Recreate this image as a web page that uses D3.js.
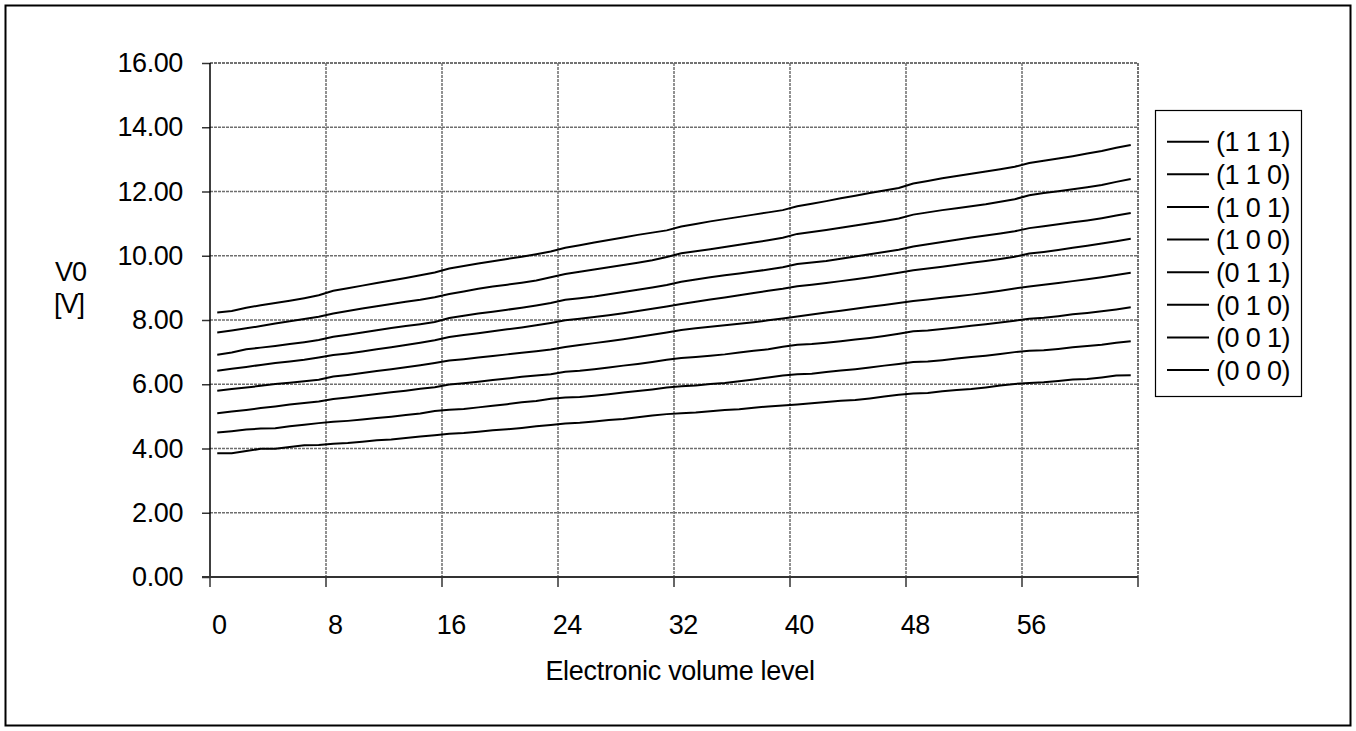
<!DOCTYPE html>
<html>
<head>
<meta charset="utf-8">
<script src="https://cdn.jsdelivr.net/npm/d3@7"></script>
<style>
  html, body { margin: 0; padding: 0; background: #fff; }
  svg { display: block; font-family: "Liberation Sans", Arial, sans-serif; }
</style>
</head>
<body>
<div class="outer-container"></div>
<script>
// electronic volume levels 0..63
const levels = d3.range(64)
const xTickLabels = [0, 8, 16, 24, 32, 40, 48, 56]
const yTickValues = [0, 2, 4, 6, 8, 10, 12, 14, 16]
const seriesNames = ['(1 1 1)', '(1 1 0)', '(1 0 1)', '(1 0 0)', '(0 1 1)', '(0 1 0)', '(0 0 1)', '(0 0 0)']

// V0 [V], one array per series
const v111 = [8.23, 8.28, 8.38, 8.46, 8.53, 8.60, 8.68, 8.77, 8.91, 8.99, 9.07, 9.15, 9.23, 9.31, 9.39, 9.48,
  9.60, 9.68, 9.76, 9.83, 9.90, 9.97, 10.05, 10.13, 10.25, 10.33, 10.41, 10.49, 10.57, 10.65, 10.72, 10.79,
  10.91, 10.99, 11.07, 11.14, 11.21, 11.28, 11.35, 11.42, 11.54, 11.62, 11.70, 11.79, 11.87, 11.95, 12.03, 12.11,
  12.25, 12.33, 12.41, 12.48, 12.55, 12.62, 12.69, 12.77, 12.89, 12.96, 13.03, 13.10, 13.18, 13.26, 13.36, 13.45]
const v110 = [7.61, 7.67, 7.74, 7.81, 7.89, 7.96, 8.03, 8.10, 8.20, 8.28, 8.36, 8.43, 8.50, 8.57, 8.63, 8.71,
  8.81, 8.89, 8.97, 9.04, 9.10, 9.16, 9.23, 9.33, 9.43, 9.50, 9.57, 9.64, 9.71, 9.78, 9.86, 9.96,
  10.08, 10.14, 10.20, 10.27, 10.34, 10.41, 10.48, 10.56, 10.68, 10.74, 10.80, 10.87, 10.94, 11.01, 11.08, 11.16,
  11.28, 11.35, 11.42, 11.48, 11.54, 11.60, 11.68, 11.76, 11.88, 11.95, 12.01, 12.07, 12.13, 12.20, 12.30, 12.39]
const v101 = [6.92, 6.99, 7.09, 7.14, 7.19, 7.25, 7.31, 7.38, 7.48, 7.54, 7.61, 7.68, 7.75, 7.81, 7.87, 7.94,
  8.06, 8.13, 8.20, 8.26, 8.32, 8.38, 8.45, 8.53, 8.63, 8.68, 8.73, 8.80, 8.87, 8.94, 9.01, 9.09,
  9.19, 9.26, 9.33, 9.39, 9.45, 9.51, 9.57, 9.64, 9.74, 9.79, 9.84, 9.91, 9.98, 10.05, 10.12, 10.19,
  10.29, 10.36, 10.43, 10.50, 10.57, 10.63, 10.69, 10.76, 10.86, 10.92, 10.98, 11.04, 11.10, 11.17, 11.25, 11.33]
const v100 = [6.42, 6.48, 6.54, 6.60, 6.66, 6.71, 6.76, 6.83, 6.91, 6.96, 7.02, 7.09, 7.15, 7.22, 7.29, 7.37,
  7.47, 7.53, 7.59, 7.65, 7.71, 7.77, 7.84, 7.91, 7.99, 8.04, 8.09, 8.15, 8.21, 8.28, 8.35, 8.42,
  8.50, 8.57, 8.64, 8.70, 8.77, 8.84, 8.91, 8.97, 9.05, 9.10, 9.15, 9.21, 9.27, 9.33, 9.40, 9.47,
  9.55, 9.60, 9.66, 9.72, 9.78, 9.84, 9.90, 9.97, 10.07, 10.12, 10.18, 10.25, 10.31, 10.38, 10.45, 10.53]
const v011 = [5.80, 5.85, 5.90, 5.95, 6.01, 6.05, 6.09, 6.14, 6.24, 6.29, 6.35, 6.41, 6.47, 6.53, 6.59, 6.66,
  6.74, 6.78, 6.83, 6.88, 6.93, 6.98, 7.03, 7.08, 7.16, 7.22, 7.28, 7.34, 7.40, 7.47, 7.54, 7.61,
  7.69, 7.74, 7.79, 7.84, 7.88, 7.93, 7.99, 8.05, 8.11, 8.17, 8.23, 8.29, 8.35, 8.41, 8.47, 8.53,
  8.59, 8.64, 8.69, 8.74, 8.79, 8.85, 8.91, 8.98, 9.04, 9.10, 9.15, 9.21, 9.27, 9.33, 9.40, 9.47]
const v010 = [5.10, 5.15, 5.20, 5.26, 5.31, 5.37, 5.42, 5.46, 5.54, 5.59, 5.64, 5.70, 5.75, 5.80, 5.86, 5.91,
  5.99, 6.03, 6.08, 6.13, 6.18, 6.23, 6.27, 6.31, 6.39, 6.42, 6.47, 6.52, 6.58, 6.63, 6.69, 6.76,
  6.82, 6.85, 6.89, 6.93, 6.99, 7.04, 7.09, 7.17, 7.23, 7.25, 7.29, 7.34, 7.39, 7.44, 7.50, 7.57,
  7.65, 7.67, 7.72, 7.77, 7.82, 7.87, 7.92, 7.98, 8.04, 8.07, 8.12, 8.18, 8.22, 8.27, 8.33, 8.40]
const v001 = [4.50, 4.54, 4.59, 4.62, 4.63, 4.69, 4.74, 4.79, 4.83, 4.86, 4.90, 4.95, 4.99, 5.04, 5.09, 5.17,
  5.21, 5.23, 5.28, 5.33, 5.38, 5.44, 5.48, 5.55, 5.59, 5.60, 5.64, 5.69, 5.74, 5.79, 5.84, 5.90,
  5.94, 5.96, 6.01, 6.04, 6.09, 6.15, 6.21, 6.27, 6.31, 6.33, 6.38, 6.43, 6.47, 6.52, 6.58, 6.63,
  6.69, 6.71, 6.75, 6.80, 6.85, 6.89, 6.94, 7.00, 7.04, 7.06, 7.10, 7.15, 7.19, 7.23, 7.29, 7.34]
const v000 = [3.85, 3.85, 3.92, 3.99, 3.99, 4.05, 4.10, 4.11, 4.15, 4.17, 4.21, 4.26, 4.28, 4.33, 4.37, 4.41,
  4.46, 4.48, 4.52, 4.57, 4.60, 4.64, 4.69, 4.73, 4.78, 4.80, 4.84, 4.89, 4.92, 4.97, 5.03, 5.07,
  5.10, 5.12, 5.16, 5.20, 5.22, 5.27, 5.31, 5.34, 5.37, 5.41, 5.45, 5.49, 5.51, 5.56, 5.62, 5.67,
  5.71, 5.73, 5.78, 5.82, 5.85, 5.90, 5.96, 6.01, 6.04, 6.06, 6.10, 6.15, 6.16, 6.21, 6.27, 6.28]

const seriesValues = [v111, v110, v101, v100, v011, v010, v001, v000]

const w = 1356
const h = 731
const plotLeft = 210
const plotRight = 1138
const plotTop = 63
const plotBottom = 577
const fontSize = 27

const svg = d3.select('.outer-container')
              .append('svg')
              .attr('width', w)
              .attr('height', h)

// outer frame
svg.append('rect')
   .attr('x', 5.5)
   .attr('y', 5.5)
   .attr('width', w - 11)
   .attr('height', h - 11)
   .attr('fill', 'none')
   .attr('stroke', '#000')
   .attr('stroke-width', 2)

const xScale = d3.scaleBand()
                 .domain(levels)
                 .range([plotLeft, plotRight])
const yScale = d3.scaleLinear()
                 .domain([0, 16])
                 .range([plotBottom, plotTop])

// horizontal grid
svg.append('g')
   .selectAll('line')
   .data(yTickValues.filter(d => d > 0))
   .enter()
   .append('line')
   .attr('x1', plotLeft)
   .attr('x2', plotRight)
   .attr('y1', d => yScale(d))
   .attr('y2', d => yScale(d))
   .attr('stroke', d => d === 16 ? '#444' : '#6e6e6e')
   .attr('stroke-width', 1.5)
   .attr('stroke-dasharray', '3,1')

// vertical grid at every 8th category boundary
const xBounds = xTickLabels.slice(1).map(d => xScale(d)).concat([plotRight])
svg.append('g')
   .selectAll('line')
   .data(xBounds)
   .enter()
   .append('line')
   .attr('x1', d => d)
   .attr('x2', d => d)
   .attr('y1', plotTop)
   .attr('y2', plotBottom)
   .attr('stroke', (d, i) => i === xBounds.length - 1 ? '#444' : '#6e6e6e')
   .attr('stroke-width', 1.5)
   .attr('stroke-dasharray', '3,1')

// x tick marks between categories
svg.append('g')
   .selectAll('line')
   .data(xTickLabels.map(d => xScale(d)).concat([plotRight]))
   .enter()
   .append('line')
   .attr('x1', d => d)
   .attr('x2', d => d)
   .attr('y1', plotBottom)
   .attr('y2', plotBottom + 10)
   .attr('stroke', '#333')
   .attr('stroke-width', 1.5)

const yAxis = d3.axisLeft(yScale)
                .tickValues(yTickValues)
                .tickFormat(d3.format('.2f'))
                .tickSize(8)
                .tickPadding(19)

const yG = svg.append('g')
              .attr('transform', 'translate(' + plotLeft + ', 0)')
              .call(yAxis)
yG.select('.domain').remove()
yG.selectAll('line').attr('stroke', '#333').attr('stroke-width', 1.5)
yG.selectAll('text')
  .attr('font-size', fontSize)
  .attr('font-family', '"Liberation Sans", Arial, sans-serif')
  .attr('letter-spacing', -0.4)
  .attr('fill', '#000')

const xAxis = d3.axisBottom(xScale)
                .tickValues(xTickLabels)
                .tickSize(0)
                .tickPadding(38)

const xG = svg.append('g')
              .attr('transform', 'translate(0, ' + plotBottom + ')')
              .call(xAxis)
xG.select('.domain').remove()
xG.selectAll('text')
  .attr('font-size', fontSize)
  .attr('font-family', '"Liberation Sans", Arial, sans-serif')
  .attr('letter-spacing', -0.4)
  .attr('dx', 2)
  .attr('fill', '#000')

// axis lines
svg.append('line')
   .attr('x1', plotLeft).attr('x2', plotLeft)
   .attr('y1', plotTop).attr('y2', plotBottom)
   .attr('stroke', '#000').attr('stroke-width', 1.5)
svg.append('line')
   .attr('x1', plotLeft - 8).attr('x2', plotRight)
   .attr('y1', plotBottom).attr('y2', plotBottom)
   .attr('stroke', '#333').attr('stroke-width', 2)

// series lines
const line = d3.line()
               .x((d, i) => xScale(levels[i]) + xScale.bandwidth() / 2)
               .y(d => yScale(d))

svg.append('g')
   .selectAll('path')
   .data(seriesValues)
   .enter()
   .append('path')
   .attr('d', d => line(d))
   .attr('fill', 'none')
   .attr('stroke', '#000')
   .attr('stroke-width', 2)

// axis titles
svg.append('text')
   .attr('x', 680)
   .attr('y', 680)
   .attr('text-anchor', 'middle')
   .attr('font-size', fontSize)
   .attr('letter-spacing', -0.3)
   .text('Electronic volume level')

svg.append('text')
   .attr('x', 55)
   .attr('y', 281)
   .attr('font-size', fontSize)
   .attr('letter-spacing', -1)
   .text('V0')
svg.append('text')
   .attr('x', 54)
   .attr('y', 313)
   .attr('font-size', fontSize)
   .attr('letter-spacing', -1)
   .text('[V]')

// legend
const legend = svg.append('g')
legend.append('rect')
      .attr('x', 1155.5)
      .attr('y', 110.5)
      .attr('width', 146)
      .attr('height', 286)
      .attr('fill', '#fff')
      .attr('stroke', '#000')
      .attr('stroke-width', 1.2)

const rowY = d3.scalePoint()
               .domain(seriesNames)
               .range([141.7, 370])

const items = legend.selectAll('g.item')
                    .data(seriesNames)
                    .enter()
                    .append('g')
                    .attr('class', 'item')
                    .attr('transform', d => 'translate(0, ' + rowY(d) + ')')
items.append('line')
     .attr('x1', 1167)
     .attr('x2', 1209)
     .attr('stroke', '#000')
     .attr('stroke-width', 2)
items.append('text')
     .attr('x', 1216)
     .attr('dy', '0.36em')
     .attr('font-size', fontSize)
     .attr('letter-spacing', -0.6)
     .text(d => d)
</script>
</body>
</html>
